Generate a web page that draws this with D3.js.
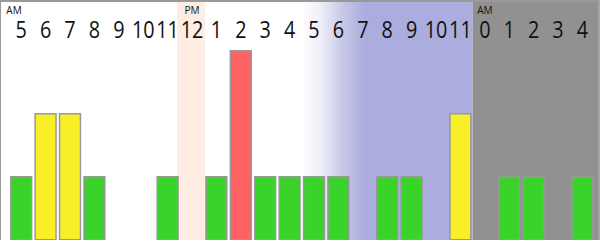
<!DOCTYPE html>
<html><head><meta charset="utf-8">
<script src="https://cdn.jsdelivr.net/npm/d3@7"></script>
<style>html,body{margin:0;padding:0;background:#fff}svg{display:block}</style>
</head><body>
<div id="chart"></div>
<script>
const hourLabels = ["5","6","7","8","9","10","11","12","1","2","3","4","5","6","7","8","9","10","11","0","1","2","3","4"];
const counts = [1,2,2,1,0,0,1,0,1,3,1,1,1,1,0,1,1,0,2,0,1,1,0,1];
const periodLabels = [{idx:0, text:"AM"},{idx:7, text:"PM"},{idx:19, text:"AM"}];

const W = 600, H = 240;
const svg = d3.select("#chart").append("svg").attr("width", W).attr("height", H);
const idx = d3.range(hourLabels.length);
const x = d3.scaleBand().domain(idx).range([10, 593.6]).paddingInner(0.082).paddingOuter(0);
const y = d3.scaleLinear().domain([0, 3]).range([239, 50]);
const colorFor = v => v >= 3 ? "#ff6262" : v === 2 ? "#f9ef29" : "#3ad32a";

const defs = svg.append("defs");
const g = defs.append("linearGradient").attr("id","eve").attr("gradientUnits","userSpaceOnUse")
  .attr("x1", 302).attr("x2", 366).attr("y1",0).attr("y2",0);
g.append("stop").attr("offset","0%").attr("stop-color","#ffffff");
g.append("stop").attr("offset","30%").attr("stop-color","#eeeef8");
g.append("stop").attr("offset","62%").attr("stop-color","#c8c9e8");
g.append("stop").attr("offset","100%").attr("stop-color","#aaaddd");

// backgrounds
const xs = i => x(i) - (x.step() - x.bandwidth());
svg.append("rect").attr("x", x(7) - 3.8).attr("y", 0).attr("width", x.bandwidth() + 5.6).attr("height", H).attr("fill", "#ffede3");
svg.append("rect").attr("x", 302).attr("y", 0).attr("width", xs(19) + 1 - 302).attr("height", H).attr("fill", "url(#eve)");
svg.append("rect").attr("x", xs(19) + 1).attr("y", 0).attr("width", W - xs(19)).attr("height", H).attr("fill", "#919191");

// bars
svg.append("g").selectAll("rect").data(idx.filter(i => counts[i] > 0)).join("rect")
  .attr("x", i => x(i) + 0.75).attr("width", x.bandwidth() - 1.5)
  .attr("y", i => y(counts[i]) + 0.75).attr("height", i => y(0) - y(counts[i]))
  .attr("fill", i => colorFor(counts[i])).attr("stroke", "#999").attr("stroke-width", 1.5);

// hour labels
svg.append("g").selectAll("text").data(idx).join("text")
  .attr("transform", i => `translate(${x(i) + x.bandwidth() / 2},37.5) scale(0.86,1)`)
  .attr("text-anchor", "middle").attr("font-family", "'Open Sans', sans-serif").attr("font-size", 23)
  .attr("fill", "#111").text(i => hourLabels[i]);

// AM/PM labels
svg.append("g").selectAll("text").data(periodLabels).join("text")
  .attr("x", d => d.idx === 0 ? 14 : x(d.idx) + x.bandwidth() / 2).attr("y", 13.5)
  .attr("text-anchor", "middle").attr("font-family", "'Open Sans', sans-serif").attr("font-size", 10)
  .attr("fill", "#111").text(d => d.text);

// border
svg.append("line").attr("x1",0).attr("x2",W).attr("y1",1).attr("y2",1).attr("stroke","#999").attr("stroke-width",2);
svg.append("line").attr("x1",0.5).attr("x2",0.5).attr("y1",0).attr("y2",H).attr("stroke","#999").attr("stroke-width",1);
svg.append("line").attr("x1",W-1).attr("x2",W-1).attr("y1",0).attr("y2",H).attr("stroke","#a5a5a5").attr("stroke-width",2);
</script>
</body></html>
